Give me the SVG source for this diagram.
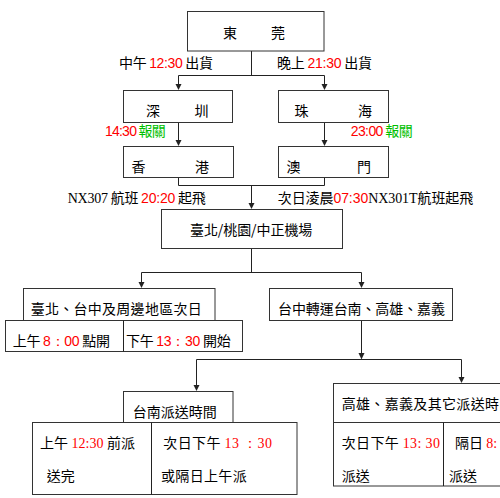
<svg xmlns="http://www.w3.org/2000/svg" width="500" height="498" viewBox="0 0 500 498">
<style>
.box{fill:#fff;stroke:#333;stroke-width:1}
.ln{fill:none;stroke:#222;stroke-width:1}
text{font-family:"Noto Sans CJK TC","Noto Sans CJK SC",sans-serif;font-size:14px;fill:#000}
.r{fill:#ff0000;font-family:"Liberation Sans",sans-serif}
.rs{fill:#ff0000;font-family:"Liberation Serif",serif}
.g{fill:#00c000}
.lat{font-family:"Liberation Serif",serif}
</style>
<defs>
<marker id="ah" markerUnits="userSpaceOnUse" markerWidth="8" markerHeight="8" refX="3" refY="6" orient="auto-start-reverse" viewBox="0 0 6 6">
<path d="M0,0 L6,0 L3,6 Z" fill="#222" transform="rotate(-90 3 3)"/>
</marker>
</defs>
<rect width="500" height="498" fill="#fff"/>
<g id="connectors">
<path class="ln" d="M251.5 51 V75.5 M178.5 75.5 H324.5"/>
<path class="ln" d="M178.5 75.5 V84"/><path d="M175.5 84 L181.5 84 L178.5 90 Z" fill="#222"/>
<path class="ln" d="M324.5 75.5 V84"/><path d="M321.5 84 L327.5 84 L324.5 90 Z" fill="#222"/>
<path class="ln" d="M178.5 122.5 V140"/><path d="M175.5 140 L181.5 140 L178.5 146 Z" fill="#222"/>
<path class="ln" d="M324.5 122.5 V140"/><path d="M321.5 140 L327.5 140 L324.5 146 Z" fill="#222"/>
<path class="ln" d="M178.5 177.5 V185.5 H324.5 V177.5 M251.5 185.5 V203"/><path d="M248.5 203 L254.5 203 L251.5 209 Z" fill="#222"/>
<path class="ln" d="M251.5 248.5 V272.5 M141.5 272.5 H361.5 M141.5 272.5 V282 M361.5 272.5 V282"/>
<path d="M138.5 282 L144.5 282 L141.5 288 Z" fill="#222"/><path d="M358.5 282 L364.5 282 L361.5 288 Z" fill="#222"/>
<path class="ln" d="M361.5 320.5 V353"/><path d="M358.5 353 L364.5 353 L361.5 359.5 Z" fill="#222"/>
<path class="ln" d="M196.5 359.5 H461.5 M196.5 359.5 V385 M461.5 359.5 V377"/>
<path d="M193.5 385 L199.5 385 L196.5 391 Z" fill="#222"/><path d="M458.5 377 L464.5 377 L461.5 383 Z" fill="#222"/>
</g>
<g id="dongguan">
<rect class="box" x="187.5" y="11.5" width="136.5" height="39.5"/>
<text x="223" y="38" font-size="16">東</text><text x="271" y="38" font-size="16">莞</text>
</g>
<g id="labels-top">
<text x="119" y="67.5" textLength="94">中午 <tspan class="r">12:30</tspan> 出貨</text>
<text x="277" y="67.5" textLength="95">晚上 <tspan class="r">21:30</tspan> 出貨</text>
</g>
<g id="shenzhen">
<rect class="box" x="123.5" y="90.5" width="109" height="32"/>
<text x="146" y="115.5" font-size="15">深</text><text x="194.5" y="115.5" font-size="15">圳</text>
</g>
<g id="zhuhai">
<rect class="box" x="278.5" y="90.5" width="110" height="32"/>
<text x="294.5" y="115.5" font-size="15">珠</text><text x="358" y="115.5" font-size="15">海</text>
</g>
<g id="customs-labels">
<text x="105" y="136" textLength="60.7"><tspan class="r">14:30</tspan> <tspan class="g">報關</tspan></text>
<text x="350.7" y="136" textLength="62"><tspan class="r">23:00</tspan> <tspan class="g">報關</tspan></text>
</g>
<g id="hongkong">
<rect class="box" x="123.5" y="146.5" width="110" height="31"/>
<text x="131.5" y="171.5" font-size="15">香</text><text x="195" y="171.5" font-size="15">港</text>
</g>
<g id="macau">
<rect class="box" x="278.5" y="146.5" width="110" height="31"/>
<text x="286.5" y="171.5" font-size="15">澳</text><text x="357" y="171.5" font-size="15">門</text>
</g>
<g id="flight-labels">
<text x="67.7" y="202.5" textLength="138"><tspan class="lat">NX307</tspan> 航班 <tspan class="r">20:20</tspan> 起飛</text>
<text x="277.7" y="202.5" textLength="195.6">次日淩晨<tspan class="r">07:30</tspan><tspan class="lat">NX301T</tspan>航班起飛</text>
</g>
<g id="airport">
<rect class="box" x="161.5" y="209.5" width="181" height="39"/>
<text x="190" y="235" font-size="16" textLength="122.3">臺北/桃園/中正機場</text>
</g>
<g id="north">
<rect class="box" x="23.5" y="288.5" width="191.5" height="32"/>
<text x="30.7" y="313.5" textLength="171">臺北、台中及周邊地區次日</text>
</g>
<g id="north-times">
<rect class="box" x="5.5" y="320.5" width="237" height="31"/>
<path class="ln" d="M123.5 320.5 V351.5"/>
<text x="12.7" y="346" textLength="97.3">上午 <tspan class="r">8：00</tspan> 點開</text>
<text x="126" y="346" textLength="104.7">下午 <tspan class="r">13：30</tspan> 開始</text>
</g>
<g id="transfer">
<rect class="box" x="269.5" y="288.5" width="183" height="32"/>
<text x="278" y="313.5" textLength="167">台中轉運台南、高雄、嘉義</text>
</g>
<g id="tainan">
<rect class="box" x="123.5" y="391.5" width="109.5" height="31"/>
<text x="132.7" y="417" textLength="84">台南派送時間</text>
</g>
<g id="tainan-times">
<rect class="box" x="32.5" y="422.5" width="264.5" height="72"/>
<path class="ln" d="M151.5 422.5 V494.5"/>
<text x="40" y="448" textLength="95">上午 <tspan class="rs">12:30</tspan> 前派</text>
<text x="46.7" y="481">送完</text>
<text x="163.3" y="448" textLength="108.7">次日下午 <tspan class="rs">13 ：30</tspan></text>
<text x="161" y="481" textLength="85.7">或隔日上午派</text>
</g>
<g id="kaohsiung">
<rect class="box" x="333.5" y="383.5" width="200" height="39"/>
<text x="341.7" y="408.5" textLength="171.6">高雄、嘉義及其它派送時間</text>
</g>
<g id="kaohsiung-times">
<rect class="box" x="333.5" y="422.5" width="200" height="63.5"/>
<path class="ln" d="M443.5 422.5 V486"/>
<text x="341.7" y="448" textLength="98.3">次日下午 <tspan class="rs">13: 30</tspan></text>
<text x="455" y="448">隔日 <tspan class="rs">8:</tspan></text>
<text x="341.7" y="481">派送</text>
<text x="449" y="481">派送</text>
</g>
</svg>
